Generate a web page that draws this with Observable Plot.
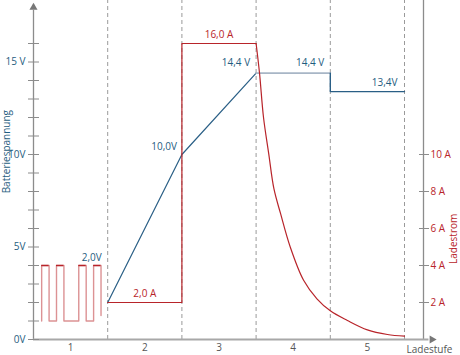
<!DOCTYPE html>
<html>
<head>
<meta charset="utf-8">
<script src="https://cdn.jsdelivr.net/npm/d3@7"></script>
<script src="https://cdn.jsdelivr.net/npm/@observablehq/plot@0.6"></script>
<style>
  html, body { margin: 0; padding: 0; background: white; }
</style>
</head>
<body>
<div id="chart"></div>
<script>
// ---- data ----
const stageLabels = ["1", "2", "3", "4", "5"];
const stageCenters = [0.5, 1.5, 2.5, 3.5, 4.5];
const stageBounds = [1, 2, 3, 4, 5];

const voltTicks = [0,1,2,3,4,5,6,7,8,9,10,11,12,13,14,15,16];
const voltTickLabels = {0: "0V", 5: "5V", 10: "10V", 15: "15 V"};
const ampTicks = [2, 4, 6, 8, 10];

// stage 1 pulses (current)
const pulseX = [0.11, 0.11, 0.21, 0.21, 0.31, 0.31, 0.41, 0.41, 0.61, 0.61, 0.71, 0.71, 0.81, 0.81, 0.91, 0.91];
const pulseY = [1, 4, 4, 1, 1, 4, 4, 1, 1, 4, 4, 1, 1, 4, 4, 1.3];
const pulseTopStart = [0.11, 0.31, 0.61, 0.81];
const pulseTopEnd = [0.21, 0.41, 0.71, 0.91];
const pulseTopLevel = 4;

// voltage (V)
const voltRiseX = [1, 2, 3];
const voltRiseY = [2, 10, 14.4];
const voltPlateauX = [3, 4];
const voltPlateauY = [14.4, 14.4];
const voltFloatX = [4, 4, 5];
const voltFloatY = [14.4, 13.4, 13.4];

// current (A)
const currStepX = [1, 2, 2, 3];
const currStepY = [2, 2, 16, 16];
const currDecayX = [3.0, 3.046, 3.10, 3.17, 3.24, 3.33, 3.46, 3.64, 3.82, 4.0, 4.23, 4.5, 4.77, 5.0];
const currDecayY = [16, 14.4, 12.0, 10.05, 8.15, 6.8, 5.0, 3.2, 2.2, 1.55, 1.03, 0.52, 0.27, 0.18];

// annotations
const voltNotes = [
  {text: "2,0V", x: 1, y: 4},
  {text: "10,0V", x: 2, y: 10},
  {text: "14,4 V", x: 3, y: 14.4},
  {text: "14,4 V", x: 4, y: 14.4},
  {text: "13,4V", x: 5, y: 13.4}
];
const ampNotes = [
  {text: "16,0 A", x: 2.5, y: 16},
  {text: "2,0 A", x: 1.5, y: 2}
];

// ---- styles ----
const BLUE = "#2a5f86";
const BLUE_TXT = "#1f5d80";
const RED = "#b8242a";
const RED_LIGHT = "#dc9294";
const PLATEAU = "#a8b6c6";
const GREY = "#8c8c8c";
const FONT = "Open Sans";

const pts = (xs, ys) => xs.map((x, i) => ({x, y: ys[i]}));
const tops = pulseTopStart.map((a, i) => ({a, b: pulseTopEnd[i], y: pulseTopLevel}));

const chart = Plot.plot({
  width: 460,
  height: 355,
  marginLeft: 33,
  marginRight: 37,
  marginTop: 0,
  marginBottom: 16,
  style: {fontFamily: FONT, fontSize: "10px", background: "white"},
  x: {domain: [0, 5], range: [33, 404]},
  y: {domain: [0, 16], range: [339, 43]},
  marks: [
    // stage boundaries
    Plot.ruleX(stageBounds, {y1: 0, y2: 18.5, stroke: "#9a9a9a", strokeDasharray: "4,3"}),
    // axis lines
    Plot.ruleX([0], {y1: 0, y2: 17.8, stroke: GREY, strokeWidth: 1.3}),
    Plot.ruleX([5.256], {y1: 0, y2: 18.5, stroke: GREY, strokeWidth: 1.3}),
    Plot.ruleY([0], {x1: 0, x2: 5.33, stroke: "#a8a8a8", strokeWidth: 2}),
    Plot.dot([0], {x: 0, y: 17.95, symbol: "triangle", r: 3, fill: "#777", stroke: null}),
    Plot.dot([0], {x: 5.37, y: 0, symbol: "triangle", r: 3, rotate: 90, fill: "#777", stroke: null}),
    // axes
    Plot.axisY(voltTicks, {anchor: "left", tickSize: 11, dx: 6, tickPadding: 3,
      tickFormat: d => voltTickLabels[d] ?? "", stroke: GREY, fill: BLUE_TXT, label: null}),
    Plot.axisY(ampTicks, {anchor: "right", tickSize: 10, dx: -5, tickPadding: 2,
      tickFormat: d => d + " A", stroke: GREY, fill: RED, label: null}),
    Plot.axisX(stageCenters, {tickSize: 0, tickPadding: 4,
      tickFormat: d => stageLabels[stageCenters.indexOf(d)], fill: "#555", label: null}),
    // axis titles
    Plot.text(["Batteriespannung"], {frameAnchor: "left", y: 7.9, dx: -27, rotate: -90, fill: BLUE_TXT, fontSize: 10}),
    Plot.text(["Ladestrom"], {frameAnchor: "right", y: 6.8, dx: 30, rotate: -90, fill: RED, fontSize: 10}),
    Plot.text(["Ladestufe"], {x: 5, y: 0, dx: 2, dy: 10, textAnchor: "start", fill: "#555", fontSize: 10}),
    // pulses
    Plot.line(pts(pulseX, pulseY), {x: "x", y: "y", stroke: RED_LIGHT, strokeWidth: 1.4}),
    Plot.ruleY(tops, {y: "y", x1: "a", x2: "b", stroke: RED, strokeWidth: 1.4}),
    // voltage
    Plot.line(pts(voltRiseX, voltRiseY), {x: "x", y: "y", stroke: BLUE, strokeWidth: 1.2}),
    Plot.line(pts(voltPlateauX, voltPlateauY), {x: "x", y: "y", stroke: PLATEAU, strokeWidth: 1.8}),
    Plot.line(pts(voltFloatX, voltFloatY), {x: "x", y: "y", stroke: BLUE, strokeWidth: 1.4}),
    // current
    Plot.line(pts(currStepX, currStepY), {x: "x", y: "y", stroke: RED, strokeWidth: 1.2}),
    Plot.line(pts(currDecayX, currDecayY), {x: "x", y: "y", stroke: RED, strokeWidth: 1.2, curve: "catmull-rom"}),
    // annotations
    Plot.text(voltNotes.slice(0, 1), {x: "x", y: "y", text: "text", dx: -6, dy: -8, textAnchor: "end", fill: BLUE_TXT}),
    Plot.text(voltNotes.slice(1, 2), {x: "x", y: "y", text: "text", dx: -5, dy: -8, textAnchor: "end", fill: BLUE_TXT}),
    Plot.text(voltNotes.slice(2, 4), {x: "x", y: "y", text: "text", dx: -6, dy: -10, textAnchor: "end", fill: BLUE_TXT}),
    Plot.text(voltNotes.slice(4, 5), {x: "x", y: "y", text: "text", dx: -7, dy: -9, textAnchor: "end", fill: BLUE_TXT}),
    Plot.text(ampNotes, {x: "x", y: "y", text: "text", dy: -9, textAnchor: "middle", fill: RED})
  ]
});

document.getElementById("chart").appendChild(chart);
</script>
</body>
</html>
